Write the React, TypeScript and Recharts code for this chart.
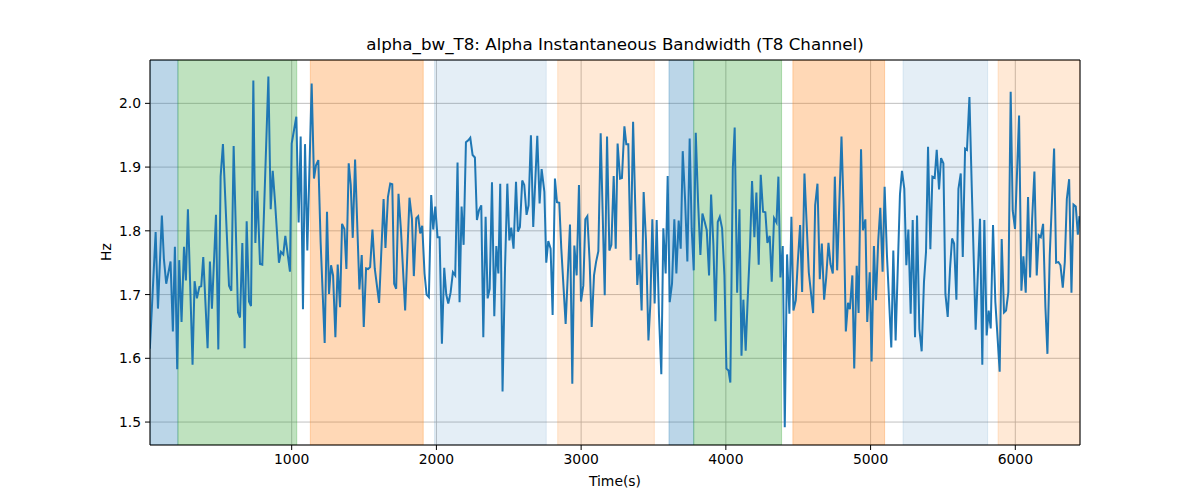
import { LineChart, Line, XAxis, YAxis, CartesianGrid, ReferenceArea } from 'recharts';

// time stamps (s) and alpha bandwidth (Hz)
const times = [
  20, 60, 76, 103, 117, 133, 163, 179, 193, 209, 223, 239, 256, 269, 283, 315, 329, 345, 362, 375,
  389, 419, 435, 449, 477, 493, 509, 525, 567, 583, 599, 629, 643, 659, 675, 689, 705, 719, 735, 749,
  763, 781, 797, 839, 855, 869, 885, 912, 926, 942, 956, 988, 1000, 1032, 1048, 1062, 1078, 1092, 1108, 1138,
  1154, 1168, 1184, 1200, 1228, 1244, 1258, 1272, 1286, 1302, 1318, 1334, 1348, 1364, 1378, 1394, 1408, 1422, 1438, 1468,
  1484, 1498, 1514, 1528, 1542, 1558, 1574, 1604, 1635, 1648, 1665, 1681, 1695, 1708, 1722, 1738, 1755, 1784, 1814, 1831,
  1844, 1861, 1874, 1888, 1902, 1918, 1932, 1948, 1964, 1978, 1992, 2008, 2022, 2038, 2054, 2068, 2082, 2098, 2114, 2130,
  2146, 2160, 2174, 2188, 2204, 2220, 2234, 2250, 2266, 2280, 2294, 2310, 2324, 2340, 2354, 2368, 2384, 2400, 2414, 2428,
  2441, 2457, 2474, 2490, 2504, 2517, 2533, 2550, 2563, 2577, 2593, 2607, 2623, 2637, 2653, 2669, 2697, 2713, 2727, 2746,
  2759, 2773, 2789, 2803, 2819, 2833, 2849, 2863, 2893, 2923, 2939, 2953, 2969, 2985, 2999, 3015, 3029, 3043, 3059, 3073,
  3089, 3103, 3119, 3135, 3163, 3179, 3195, 3209, 3225, 3239, 3252, 3269, 3282, 3299, 3312, 3326, 3342, 3359, 3388, 3402,
  3418, 3432, 3448, 3465, 3478, 3492, 3508, 3522, 3538, 3554, 3568, 3584, 3598, 3612, 3628, 3644, 3658, 3674, 3688, 3702,
  3718, 3734, 3750, 3764, 3778, 3792, 3808, 3824, 3838, 3854, 3868, 3884, 3898, 3914, 3928, 3944, 3958, 3974, 3990, 4004,
  4018, 4031, 4048, 4061, 4078, 4094, 4108, 4121, 4137, 4151, 4167, 4181, 4197, 4211, 4227, 4241, 4257, 4273, 4287, 4303,
  4317, 4333, 4350, 4363, 4377, 4393, 4407, 4423, 4439, 4453, 4467, 4483, 4497, 4513, 4527, 4543, 4573, 4603, 4617, 4633,
  4649, 4663, 4679, 4693, 4709, 4723, 4739, 4753, 4769, 4799, 4813, 4829, 4844, 4857, 4874, 4887, 4904, 4917, 4934, 4947,
  4964, 4977, 4994, 5007, 5023, 5037, 5053, 5067, 5083, 5097, 5113, 5143, 5157, 5173, 5203, 5217, 5233, 5247, 5261, 5277,
  5291, 5307, 5321, 5337, 5353, 5369, 5383, 5397, 5413, 5427, 5443, 5457, 5473, 5487, 5503, 5517, 5533, 5549, 5563, 5577,
  5593, 5607, 5623, 5637, 5653, 5666, 5683, 5699, 5726, 5756, 5772, 5786, 5802, 5816, 5830, 5846, 5862, 5892, 5906, 5922,
  5936, 5952, 5968, 5982, 5998, 6026, 6042, 6056, 6072, 6088, 6102, 6116, 6132, 6148, 6162, 6176, 6192, 6208, 6222, 6238,
  6268, 6282, 6298, 6312, 6328, 6342, 6356, 6372, 6388, 6402, 6418, 6432, 6443,
];

const values = [
  1.615, 1.798, 1.678, 1.824, 1.756, 1.717, 1.752, 1.642, 1.775, 1.583, 1.754, 1.657, 1.775, 1.722, 1.834, 1.590, 1.721, 1.694, 1.712, 1.713,
  1.759, 1.616, 1.752, 1.678, 1.825, 1.614, 1.885, 1.936, 1.714, 1.706, 1.933, 1.672, 1.664, 1.781, 1.616, 1.815, 1.689, 1.682, 2.036, 1.781,
  1.863, 1.748, 1.747, 2.042, 1.834, 1.894, 1.845, 1.750, 1.767, 1.763, 1.792, 1.736, 1.937, 1.979, 1.813, 1.948, 1.677, 1.936, 1.769, 2.031,
  1.882, 1.903, 1.911, 1.782, 1.624, 1.830, 1.701, 1.746, 1.730, 1.633, 1.747, 1.680, 1.811, 1.803, 1.740, 1.906, 1.872, 1.789, 1.912, 1.708,
  1.762, 1.649, 1.741, 1.740, 1.743, 1.802, 1.741, 1.687, 1.850, 1.773, 1.853, 1.874, 1.873, 1.717, 1.709, 1.858, 1.801, 1.675, 1.852, 1.819,
  1.729, 1.820, 1.823, 1.796, 1.808, 1.733, 1.700, 1.696, 1.856, 1.802, 1.838, 1.790, 1.790, 1.623, 1.742, 1.700, 1.686, 1.703, 1.735, 1.730,
  1.907, 1.688, 1.838, 1.778, 1.939, 1.942, 1.946, 1.919, 1.915, 1.817, 1.832, 1.840, 1.633, 1.822, 1.694, 1.709, 1.876, 1.666, 1.776, 1.733,
  1.874, 1.548, 1.741, 1.874, 1.785, 1.805, 1.772, 1.877, 1.799, 1.806, 1.879, 1.872, 1.825, 1.840, 1.950, 1.806, 1.949, 1.843, 1.897, 1.861,
  1.750, 1.784, 1.772, 1.668, 1.882, 1.845, 1.844, 1.772, 1.654, 1.810, 1.560, 1.777, 1.730, 1.872, 1.689, 1.714, 1.818, 1.823, 1.751, 1.649,
  1.730, 1.751, 1.768, 1.953, 1.699, 1.948, 1.769, 1.778, 1.886, 1.772, 1.937, 1.882, 1.883, 1.964, 1.936, 1.936, 1.754, 1.971, 1.715, 1.763,
  1.675, 1.861, 1.785, 1.628, 1.684, 1.818, 1.686, 1.817, 1.667, 1.575, 1.804, 1.733, 1.886, 1.688, 1.717, 1.818, 1.733, 1.816, 1.772, 1.925,
  1.850, 1.752, 1.945, 1.803, 1.738, 1.954, 1.845, 1.762, 1.827, 1.814, 1.801, 1.730, 1.857, 1.777, 1.658, 1.814, 1.822, 1.804, 1.730, 1.584,
  1.581, 1.562, 1.898, 1.962, 1.703, 1.834, 1.604, 1.692, 1.612, 1.694, 1.776, 1.878, 1.790, 1.860, 1.747, 1.888, 1.830, 1.829, 1.781, 1.792,
  1.720, 1.820, 1.813, 1.885, 1.727, 1.776, 1.492, 1.763, 1.670, 1.822, 1.675, 1.691, 1.751, 1.809, 1.704, 1.890, 1.735, 1.671, 1.840, 1.874,
  1.724, 1.780, 1.692, 1.726, 1.781, 1.748, 1.733, 1.885, 1.738, 1.948, 1.841, 1.642, 1.687, 1.677, 1.730, 1.584, 1.745, 1.671, 1.928, 1.801,
  1.818, 1.657, 1.735, 1.595, 1.776, 1.691, 1.785, 1.836, 1.736, 1.869, 1.762, 1.617, 1.769, 1.628, 1.857, 1.894, 1.866, 1.746, 1.802, 1.670,
  1.817, 1.633, 1.824, 1.646, 1.611, 1.720, 1.767, 1.932, 1.771, 1.885, 1.883, 1.927, 1.865, 1.914, 1.906, 1.701, 1.665, 1.741, 1.788, 1.780,
  1.692, 1.866, 1.890, 1.759, 1.929, 1.927, 2.010, 1.869, 1.645, 1.819, 1.590, 1.817, 1.636, 1.675, 1.647, 1.809, 1.689, 1.579, 1.787, 1.672,
  1.675, 1.704, 2.018, 1.832, 1.803, 1.981, 1.706, 1.760, 1.703, 1.853, 1.727, 1.817, 1.893, 1.730, 1.793, 1.790, 1.811, 1.680, 1.607, 1.762,
  1.929, 1.750, 1.751, 1.746, 1.711, 1.751, 1.850, 1.881, 1.703, 1.841, 1.838, 1.794, 1.823,
];

// shaded segments
const spanStart = [21, 214, 1129, 1987, 2838, 3607, 3778, 4463, 5224, 5881];
const spanEnd = [214, 1035, 1909, 2759, 3506, 3778, 4385, 5097, 5809, 6447];
const spanColor = ['#1f77b4', '#2ca02c', '#ff7f0e', '#1f77b4', '#ff7f0e', '#1f77b4', '#2ca02c', '#ff7f0e', '#1f77b4', '#ff7f0e'];
const spanAlpha = [0.3, 0.3, 0.3, 0.12, 0.17, 0.3, 0.3, 0.3, 0.12, 0.17];

const xTicks = [1000, 2000, 3000, 4000, 5000, 6000];
const yTicks = [1.5, 1.6, 1.7, 1.8, 1.9, 2.0];
const xDomain = [21, 6447];
const yDomain = [1.464, 2.068];

const data = times.map((t, i) => ({ t, v: values[i] }));

const font = 'DejaVu Sans, sans-serif';
const tickStyle = { fill: '#000', fontSize: 13.9, fontFamily: font };

export default function App() {
  return (
    <div style={{ position: 'absolute', left: 0, top: 0, width: 1200, height: 500, background: '#fff', fontFamily: font }}>
      <div style={{ position: 'absolute', left: 150, width: 930, top: 34, textAlign: 'center', fontSize: 16.7, lineHeight: '20px', color: '#000' }}>
        alpha_bw_T8: Alpha Instantaneous Bandwidth (T8 Channel)
      </div>
      <div style={{ position: 'absolute', left: 150, width: 930, top: 472, textAlign: 'center', fontSize: 13.9, lineHeight: '18px', color: '#000' }}>
        Time(s)
      </div>
      <div style={{ position: 'absolute', left: 96, top: 243, width: 20, height: 18, transform: 'rotate(-90deg)', fontSize: 13.9, lineHeight: '18px', textAlign: 'center', color: '#000' }}>
        Hz
      </div>
      <LineChart width={1200} height={500} data={data} margin={{ top: 59, right: 119, bottom: 25, left: 90 }}>
        {spanStart.map((s, i) => (
          <ReferenceArea
            key={i}
            x1={s}
            x2={spanEnd[i]}
            y1={yDomain[0]}
            y2={yDomain[1]}
            fill={spanColor[i]}
            fillOpacity={spanAlpha[i]}
            stroke={spanColor[i]}
            strokeOpacity={spanAlpha[i]}
            ifOverflow="hidden"
          />
        ))}
        <CartesianGrid stroke="#b0b0b0" strokeWidth={0.8} />
        <XAxis
          dataKey="t"
          type="number"
          domain={xDomain}
          allowDataOverflow
          ticks={xTicks}
          interval={0}
          height={30}
          tick={tickStyle}
          tickSize={5}
          tickMargin={4}
          stroke="#000"
          axisLine={{ stroke: '#000' }}
          tickLine={{ stroke: '#000' }}
        />
        <XAxis xAxisId="top" orientation="top" dataKey="t" type="number" domain={xDomain} allowDataOverflow height={1} tick={false} tickLine={false} axisLine={{ stroke: '#000' }} />
        <YAxis
          type="number"
          domain={yDomain}
          allowDataOverflow
          ticks={yTicks}
          interval={0}
          width={60}
          tick={tickStyle}
          tickSize={5}
          tickMargin={4}
          tickFormatter={(v) => Number(v).toFixed(1)}
          axisLine={{ stroke: '#000' }}
          tickLine={{ stroke: '#000' }}
        />
        <YAxis yAxisId="right" orientation="right" type="number" domain={yDomain} allowDataOverflow width={1} tick={false} tickLine={false} axisLine={{ stroke: '#000' }} />
        <Line type="linear" dataKey="v" stroke="#1f77b4" strokeWidth={2} dot={false} isAnimationActive={false} />
      </LineChart>
    </div>
  );
}
